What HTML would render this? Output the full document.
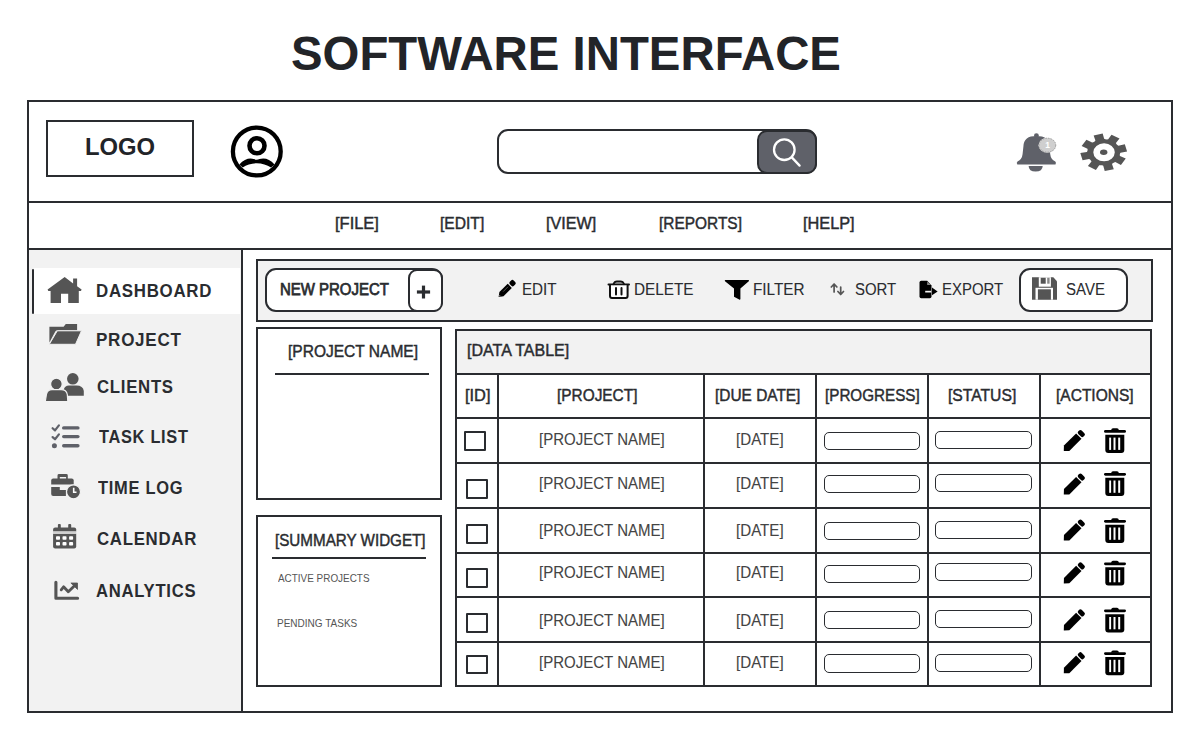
<!DOCTYPE html>
<html><head><meta charset="utf-8">
<style>
*{box-sizing:border-box;margin:0;padding:0}
html,body{width:1200px;height:740px;background:#fff;overflow:hidden}
body{position:relative;font-family:"Liberation Sans",sans-serif;color:#2a2c30}
.a{position:absolute}
.t{position:absolute;line-height:1;white-space:nowrap}
.ln{position:absolute;background:#2a2c30}
.box{position:absolute;border:2px solid #2a2c30}
.mn{font-size:15px;color:#2a2c30}
.sb{font-size:18px;font-weight:700;color:#2a2c30}
.tb{font-size:15px;color:#2a2c30}
.th{text-align:center;font-size:15px;color:#2a2c30}
.td{text-align:center;font-size:15px;color:#444}
.cb{width:21.6px;height:19.8px;border:2.2px solid #2a2c30;border-radius:1px;background:#fff}
.pill{width:96.2px;height:18.2px;border:1.7px solid #2a2c30;border-radius:5px;background:#fff}
svg.full{position:absolute;left:0;top:0}
</style></head><body>

<div class="t" style="left:290.51px;top:29.11px;font-size:48.6px;font-weight:700;color:#222428;letter-spacing:0px;transform:scaleX(0.9747);transform-origin:0 0;">SOFTWARE INTERFACE</div>
<div class="box" style="left:27px;top:100px;width:1146px;height:613.4px"></div>
<div class="ln" style="left:27px;top:201px;width:1146px;height:2px"></div>
<div class="ln" style="left:27px;top:248px;width:1146px;height:2px"></div>
<div class="box" style="left:46px;top:120px;width:148px;height:57px"></div>
<div class="t" style="left:84.81px;top:134.65px;font-size:24.2px;font-weight:700;color:#222428;letter-spacing:0px;transform:scaleX(0.9846);transform-origin:0 0;">LOGO</div>
<div class="a" style="left:29px;top:250px;width:213px;height:461px;background:#f2f2f2"></div>
<div class="ln" style="left:241px;top:249px;width:2px;height:463px"></div>
<div class="a" style="left:34px;top:268px;width:206px;height:46px;background:#fff"></div>
<div class="a" style="left:31.6px;top:268.7px;width:2.7px;height:45px;border-radius:1.3px;background:#2a2c30"></div>
<div class="a" style="left:497px;top:129px;width:320px;height:44.6px;border:2px solid #2a2c30;border-radius:11px;background:#fff"></div>
<div class="a" style="left:757px;top:130px;width:60px;height:44px;background:#5f6169;border:2px solid #2a2c30;border-radius:10px"></div>
<div class="t" style="left:334.78px;top:215.25px;font-size:16.5px;font-weight:400;color:#2a2c30;-webkit-text-stroke:0.45px #2a2c30;letter-spacing:0px;transform:scaleX(0.9976);transform-origin:0 0;">[FILE]</div>
<div class="t" style="left:440.13px;top:215.45px;font-size:16.5px;font-weight:400;color:#2a2c30;-webkit-text-stroke:0.45px #2a2c30;letter-spacing:0px;transform:scaleX(0.9459);transform-origin:0 0;">[EDIT]</div>
<div class="t" style="left:546.27px;top:215.25px;font-size:16.5px;font-weight:400;color:#2a2c30;-webkit-text-stroke:0.45px #2a2c30;letter-spacing:0px;transform:scaleX(0.9791);transform-origin:0 0;">[VIEW]</div>
<div class="t" style="left:658.76px;top:215.20px;font-size:16.5px;font-weight:400;color:#2a2c30;-webkit-text-stroke:0.45px #2a2c30;letter-spacing:0px;transform:scaleX(0.9356);transform-origin:0 0;">[REPORTS]</div>
<div class="t" style="left:803.4px;top:215.20px;font-size:16.5px;font-weight:400;color:#2a2c30;-webkit-text-stroke:0.45px #2a2c30;letter-spacing:0px;transform:scaleX(0.988);transform-origin:0 0;">[HELP]</div>
<div class="t" style="left:95.93px;top:282.17px;font-size:18.6px;font-weight:700;color:#2a2c30;letter-spacing:0.8px;transform:scaleX(0.9072);transform-origin:0 0;">DASHBOARD</div>
<div class="t" style="left:95.76px;top:330.70px;font-size:18.6px;font-weight:700;color:#2a2c30;letter-spacing:0.8px;transform:scaleX(0.9164);transform-origin:0 0;">PROJECT</div>
<div class="t" style="left:96.98px;top:377.85px;font-size:18.6px;font-weight:700;color:#2a2c30;letter-spacing:0.8px;transform:scaleX(0.9015);transform-origin:0 0;">CLIENTS</div>
<div class="t" style="left:99.26px;top:428.45px;font-size:18.6px;font-weight:700;color:#2a2c30;letter-spacing:0.8px;transform:scaleX(0.8799);transform-origin:0 0;">TASK LIST</div>
<div class="t" style="left:98.47px;top:478.55px;font-size:18.6px;font-weight:700;color:#2a2c30;letter-spacing:0.8px;transform:scaleX(0.8849);transform-origin:0 0;">TIME LOG</div>
<div class="t" style="left:97.36px;top:530.20px;font-size:18.6px;font-weight:700;color:#2a2c30;letter-spacing:0.8px;transform:scaleX(0.9032);transform-origin:0 0;">CALENDAR</div>
<div class="t" style="left:96.18px;top:582.05px;font-size:18.6px;font-weight:700;color:#2a2c30;letter-spacing:0.8px;transform:scaleX(0.8958);transform-origin:0 0;">ANALYTICS</div>
<div class="a" style="left:256px;top:259px;width:897px;height:63px;background:#f2f2f2;border:2px solid #2a2c30"></div>
<div class="a" style="left:265px;top:268px;width:178px;height:44px;background:#fff;border:2px solid #2a2c30;border-radius:11px"></div>
<div class="a" style="left:408px;top:269px;width:35px;height:43px;background:#fff;border:2px solid #2a2c30;border-radius:9px"></div>
<div class="t" style="left:280.41px;top:280.61px;font-size:16.5px;font-weight:400;color:#2a2c30;-webkit-text-stroke:0.75px #2a2c30;letter-spacing:0px;transform:scaleX(0.9061);transform-origin:0 0;">NEW PROJECT</div>
<div class="t" style="left:522.44px;top:282.00px;font-size:16.0px;font-weight:400;color:#2a2c30;-webkit-text-stroke:0.1px #2a2c30;letter-spacing:0px;transform:scaleX(0.9482);transform-origin:0 0;">EDIT</div>
<div class="t" style="left:633.56px;top:282.00px;font-size:16.0px;font-weight:400;color:#2a2c30;-webkit-text-stroke:0.1px #2a2c30;letter-spacing:0px;transform:scaleX(0.9556);transform-origin:0 0;">DELETE</div>
<div class="t" style="left:752.58px;top:282.00px;font-size:16.0px;font-weight:400;color:#2a2c30;-webkit-text-stroke:0.1px #2a2c30;letter-spacing:0px;transform:scaleX(0.9574);transform-origin:0 0;">FILTER</div>
<div class="t" style="left:854.53px;top:282.00px;font-size:16.0px;font-weight:400;color:#2a2c30;-webkit-text-stroke:0.1px #2a2c30;letter-spacing:0px;transform:scaleX(0.9334);transform-origin:0 0;">SORT</div>
<div class="t" style="left:941.7px;top:282.00px;font-size:16.0px;font-weight:400;color:#2a2c30;-webkit-text-stroke:0.1px #2a2c30;letter-spacing:0px;transform:scaleX(0.9333);transform-origin:0 0;">EXPORT</div>
<div class="a" style="left:1019px;top:268px;width:109px;height:44px;background:#fff;border:2px solid #2a2c30;border-radius:11px"></div>
<div class="t" style="left:1066.11px;top:282.00px;font-size:16.0px;font-weight:400;color:#2a2c30;-webkit-text-stroke:0.1px #2a2c30;letter-spacing:0px;transform:scaleX(0.9378);transform-origin:0 0;">SAVE</div>
<div class="box" style="left:256px;top:327px;width:186px;height:173px"></div>
<div class="t" style="left:288.22px;top:343.20px;font-size:16.5px;font-weight:400;color:#2a2c30;-webkit-text-stroke:0.45px #2a2c30;letter-spacing:0px;transform:scaleX(0.9411);transform-origin:0 0;">[PROJECT NAME]</div>
<div class="ln" style="left:275px;top:373px;width:154px;height:2px"></div>
<div class="box" style="left:256px;top:515px;width:186px;height:172px"></div>
<div class="t" style="left:275.06px;top:532.15px;font-size:16.5px;font-weight:400;color:#2a2c30;-webkit-text-stroke:0.45px #2a2c30;letter-spacing:0px;transform:scaleX(0.9211);transform-origin:0 0;">[SUMMARY WIDGET]</div>
<div class="ln" style="left:272px;top:557px;width:154px;height:2px"></div>
<div class="t" style="left:277.6px;top:573.25px;font-size:10.9px;font-weight:400;color:#555;letter-spacing:0px;transform:scaleX(0.9111);transform-origin:0 0;">ACTIVE PROJECTS</div>
<div class="t" style="left:277.27px;top:617.76px;font-size:10.9px;font-weight:400;color:#555;letter-spacing:0px;transform:scaleX(0.9192);transform-origin:0 0;">PENDING TASKS</div>
<div class="a" style="left:455px;top:329px;width:697px;height:45px;background:#f2f2f2"></div>
<div class="box" style="left:455px;top:328.6px;width:697px;height:358.6px"></div>
<div class="t" style="left:466.78px;top:342.35px;font-size:16.5px;font-weight:400;color:#2a2c30;-webkit-text-stroke:0.45px #2a2c30;letter-spacing:0px;transform:scaleX(0.9721);transform-origin:0 0;">[DATA TABLE]</div>
<div class="ln" style="left:455px;top:372.6px;width:697px;height:2px"></div>
<div class="ln" style="left:455px;top:417.0px;width:697px;height:2px"></div>
<div class="ln" style="left:455px;top:461.8px;width:697px;height:2px"></div>
<div class="ln" style="left:455px;top:506.7px;width:697px;height:2px"></div>
<div class="ln" style="left:455px;top:551.5px;width:697px;height:2px"></div>
<div class="ln" style="left:455px;top:596.3px;width:697px;height:2px"></div>
<div class="ln" style="left:455px;top:641.0px;width:697px;height:2px"></div>
<div class="ln" style="left:497px;top:373px;width:2px;height:314px"></div>
<div class="ln" style="left:703px;top:373px;width:2px;height:314px"></div>
<div class="ln" style="left:815px;top:373px;width:2px;height:314px"></div>
<div class="ln" style="left:927px;top:373px;width:2px;height:314px"></div>
<div class="ln" style="left:1039px;top:373px;width:2px;height:314px"></div>
<div class="t" style="left:464.94px;top:386.65px;font-size:16.5px;font-weight:400;color:#2a2c30;-webkit-text-stroke:0.45px #2a2c30;letter-spacing:0px;transform:scaleX(0.9931);transform-origin:0 0;">[ID]</div>
<div class="t" style="left:557.3px;top:386.80px;font-size:16.5px;font-weight:400;color:#2a2c30;-webkit-text-stroke:0.45px #2a2c30;letter-spacing:0px;transform:scaleX(0.9331);transform-origin:0 0;">[PROJECT]</div>
<div class="t" style="left:715.1px;top:386.95px;font-size:16.5px;font-weight:400;color:#2a2c30;-webkit-text-stroke:0.45px #2a2c30;letter-spacing:0px;transform:scaleX(0.9347);transform-origin:0 0;">[DUE DATE]</div>
<div class="t" style="left:825.19px;top:386.50px;font-size:16.5px;font-weight:400;color:#2a2c30;-webkit-text-stroke:0.45px #2a2c30;letter-spacing:0px;transform:scaleX(0.9221);transform-origin:0 0;">[PROGRESS]</div>
<div class="t" style="left:948.33px;top:386.50px;font-size:16.5px;font-weight:400;color:#2a2c30;-webkit-text-stroke:0.45px #2a2c30;letter-spacing:0px;transform:scaleX(0.9504);transform-origin:0 0;">[STATUS]</div>
<div class="t" style="left:1056.43px;top:386.50px;font-size:16.5px;font-weight:400;color:#2a2c30;-webkit-text-stroke:0.45px #2a2c30;letter-spacing:0px;transform:scaleX(0.941);transform-origin:0 0;">[ACTIONS]</div>
<div class="a cb" style="left:464.3px;top:430.9px"></div>
<div class="t" style="left:538.51px;top:431.25px;font-size:16.5px;font-weight:400;color:#444;-webkit-text-stroke:0.1px #444;letter-spacing:0px;transform:scaleX(0.9101);transform-origin:0 0;">[PROJECT NAME]</div>
<div class="t" style="left:736.45px;top:431.30px;font-size:16.5px;font-weight:400;color:#444;-webkit-text-stroke:0.1px #444;letter-spacing:0px;transform:scaleX(0.917);transform-origin:0 0;">[DATE]</div>
<div class="a pill" style="left:823.6px;top:432.0px"></div>
<div class="a pill" style="left:935.4px;top:431.0px"></div>
<div class="a cb" style="left:466.3px;top:479px"></div>
<div class="t" style="left:538.51px;top:474.95px;font-size:16.5px;font-weight:400;color:#444;-webkit-text-stroke:0.1px #444;letter-spacing:0px;transform:scaleX(0.9101);transform-origin:0 0;">[PROJECT NAME]</div>
<div class="t" style="left:736.45px;top:475.00px;font-size:16.5px;font-weight:400;color:#444;-webkit-text-stroke:0.1px #444;letter-spacing:0px;transform:scaleX(0.917);transform-origin:0 0;">[DATE]</div>
<div class="a pill" style="left:823.6px;top:475px"></div>
<div class="a pill" style="left:935.4px;top:473.7px"></div>
<div class="a cb" style="left:466.2px;top:524px"></div>
<div class="t" style="left:538.51px;top:521.95px;font-size:16.5px;font-weight:400;color:#444;-webkit-text-stroke:0.1px #444;letter-spacing:0px;transform:scaleX(0.9101);transform-origin:0 0;">[PROJECT NAME]</div>
<div class="t" style="left:736.45px;top:522.00px;font-size:16.5px;font-weight:400;color:#444;-webkit-text-stroke:0.1px #444;letter-spacing:0px;transform:scaleX(0.917);transform-origin:0 0;">[DATE]</div>
<div class="a pill" style="left:823.6px;top:521.7px"></div>
<div class="a pill" style="left:935.4px;top:521px"></div>
<div class="a cb" style="left:466.1px;top:568.3px"></div>
<div class="t" style="left:538.51px;top:564.35px;font-size:16.5px;font-weight:400;color:#444;-webkit-text-stroke:0.1px #444;letter-spacing:0px;transform:scaleX(0.9101);transform-origin:0 0;">[PROJECT NAME]</div>
<div class="t" style="left:736.45px;top:564.40px;font-size:16.5px;font-weight:400;color:#444;-webkit-text-stroke:0.1px #444;letter-spacing:0px;transform:scaleX(0.917);transform-origin:0 0;">[DATE]</div>
<div class="a pill" style="left:823.6px;top:564.5px"></div>
<div class="a pill" style="left:935.4px;top:563px"></div>
<div class="a cb" style="left:466.1px;top:613px"></div>
<div class="t" style="left:538.51px;top:612.05px;font-size:16.5px;font-weight:400;color:#444;-webkit-text-stroke:0.1px #444;letter-spacing:0px;transform:scaleX(0.9101);transform-origin:0 0;">[PROJECT NAME]</div>
<div class="t" style="left:736.45px;top:612.10px;font-size:16.5px;font-weight:400;color:#444;-webkit-text-stroke:0.1px #444;letter-spacing:0px;transform:scaleX(0.917);transform-origin:0 0;">[DATE]</div>
<div class="a pill" style="left:823.6px;top:611.2px"></div>
<div class="a pill" style="left:935.4px;top:610.2px"></div>
<div class="a cb" style="left:466.1px;top:654.5px"></div>
<div class="t" style="left:538.51px;top:653.55px;font-size:16.5px;font-weight:400;color:#444;-webkit-text-stroke:0.1px #444;letter-spacing:0px;transform:scaleX(0.9101);transform-origin:0 0;">[PROJECT NAME]</div>
<div class="t" style="left:736.45px;top:653.60px;font-size:16.5px;font-weight:400;color:#444;-webkit-text-stroke:0.1px #444;letter-spacing:0px;transform:scaleX(0.917);transform-origin:0 0;">[DATE]</div>
<div class="a pill" style="left:823.6px;top:654.4px"></div>
<div class="a pill" style="left:935.4px;top:654px"></div>
<svg class="full" width="1200" height="740" viewBox="0 0 1200 740">
<defs>
<g id="tpen" fill="#000"><g transform="translate(1063.8 451.1) rotate(-45)"><path d="M0 0 L4 -3.8 H21.2 V3.8 H4 Z"/><rect x="22.4" y="-3.7" width="4.8" height="7.4" rx="1.8"/></g></g>
<g id="ttrash" fill="#000"><rect x="1104" y="430" width="22" height="2.8" rx="1.4"/><path d="M1111 430.5 Q1111.5 428.3 1113 428.3 H1117 Q1118.6 428.3 1119 430.5Z"/><path d="M1105.3 434.8 H1124.3 V450 Q1124.3 453 1121.3 453 H1108.3 Q1105.3 453 1105.3 450Z"/><rect x="1109.2" y="437.6" width="1.9" height="12.3" fill="#fff"/><rect x="1113.5" y="437.6" width="2" height="12.3" fill="#fff"/><rect x="1118.2" y="437.6" width="2" height="12.3" fill="#fff"/></g>
</defs>
<circle cx="256.8" cy="151.5" r="23.9" fill="none" stroke="#000" stroke-width="4.3"/>
<circle cx="257" cy="145.7" r="7.5" fill="none" stroke="#000" stroke-width="4.6"/>
<path fill="#000" d="M239.3 164.5 C243 160.5 247 158.6 250.5 158.6 C253.5 158.6 255 159.8 256.8 159.8 C258.6 159.8 260 158.6 263.3 158.6 C267 158.6 271 160.5 274.5 164.5 L271 167.5 C267 165 262 163.3 256.8 163.3 C251.6 163.3 246.5 165 242.7 167.5 Z"/>
<circle cx="784.3" cy="149.7" r="10.3" fill="none" stroke="#fff" stroke-width="2.3"/>
<line x1="791.8" y1="157.4" x2="799.6" y2="165.6" stroke="#fff" stroke-width="2.3" stroke-linecap="round"/>
<g fill="#5f6169"><circle cx="1036.4" cy="135.6" r="2.4"/><path d="M1017.5 161.5 Q1022 159.5 1022.6 154 L1023.4 146.5 C1023.8 139 1028 136 1036.4 136 C1044.8 136 1049 139 1049.4 146.5 L1050.2 154 Q1050.8 159.5 1055.3 161.5 Q1056.5 162.5 1055.5 164.5 H1017.3 Q1016.3 162.5 1017.5 161.5Z"/><path d="M1028.6 166 H1042.7 Q1042.5 171.5 1035.6 171.5 Q1028.8 171.5 1028.6 166Z"/></g>
<ellipse cx="1047.4" cy="145.2" rx="8.9" ry="7.5" fill="#e8e8e8"/>
<ellipse cx="1047.4" cy="145.2" rx="8.3" ry="7" fill="#cfcfcf" stroke="#9a9a9a" stroke-width="0.9" stroke-dasharray="1.6 1"/>
<text x="1047.6" y="147.9" font-size="8.5" font-weight="700" fill="#fff" text-anchor="middle" font-family="Liberation Sans">1</text>
<path d="M1117.36 145.08 L1118.36 145.67 L1124.82 144.25 L1127.08 151.48 L1120.54 152.65 L1120.00 153.55 L1119.75 154.91 L1119.94 155.90 L1125.76 158.54 L1120.95 164.93 L1115.30 162.07 L1114.12 162.40 L1112.74 163.22 L1112.00 164.02 L1113.77 169.18 L1104.72 170.98 L1103.26 165.76 L1102.13 165.33 L1100.43 165.13 L1099.20 165.27 L1095.89 169.93 L1087.89 166.09 L1091.48 161.57 L1091.06 160.63 L1090.04 159.52 L1089.04 158.93 L1082.58 160.35 L1080.32 153.12 L1086.86 151.95 L1087.40 151.05 L1087.65 149.69 L1087.46 148.70 L1081.64 146.06 L1086.45 139.67 L1092.10 142.53 L1093.28 142.20 L1094.66 141.38 L1095.40 140.58 L1093.63 135.42 L1102.68 133.62 L1104.14 138.84 L1105.27 139.27 L1106.97 139.47 L1108.20 139.33 L1111.51 134.67 L1119.51 138.51 L1115.92 143.03 L1116.34 143.97Z M1093.3 152.3 A10.75 9 0 1 0 1114.8 152.3 A10.75 9 0 1 0 1093.3 152.3Z" fill="#555" fill-rule="evenodd"/>
<ellipse cx="1103.7" cy="152.2" rx="3.7" ry="2.7" fill="#555"/>
<path fill="#555" d="M64.7 277 L47.6 289.6 L48.3 291 H50.6 V303 H61 V293.8 H68.2 V303 H78.8 V291 H81 L81.6 289.6 L77.1 286.3 V278.6 H73.1 V283.4Z"/>
<path fill="#555" d="M49.4 326.8 H63.6 L65.8 324 H77.1 V330.2 H57.5 Q56 330.2 55.3 331.6 L49.4 342.5Z"/>
<path fill="#555" stroke="#f2f2f2" stroke-width="1" d="M57.3 330.8 H81.5 L75.5 344.3 H49.3Z"/>
<g fill="#555"><circle cx="72.8" cy="378.8" r="5.8"/><path d="M63.7 395.8 V390 Q64.5 385.5 69 385.5 H76.5 Q83 385.5 83.8 391 V395.8Z"/></g>
<g fill="#555" stroke="#f2f2f2" stroke-width="1.2"><circle cx="56.4" cy="384" r="5.8"/><path d="M45.3 401.5 L46.5 394 Q47.5 389.6 52 389.6 H61 Q66.5 389.6 67.3 394.5 L67.8 401.5Z"/></g>
<g fill="none" stroke="#5f6169" stroke-width="2.2" stroke-linecap="round" stroke-linejoin="round"><path d="M52.6 428.2 L55 430.4 L58.9 425.4"/><path d="M52.6 437.1 L55 439.3 L58.9 434.4"/></g>
<circle cx="54.4" cy="445.7" r="2.5" fill="#5f6169"/>
<g stroke="#5f6169" stroke-width="3.4" stroke-linecap="round"><line x1="63.7" y1="427.9" x2="77.9" y2="427.9"/><line x1="63.7" y1="436.6" x2="77.9" y2="436.6"/><line x1="63.7" y1="445.7" x2="77.9" y2="445.7"/></g>
<g fill="#555"><path fill-rule="evenodd" d="M57.5 475.5 Q57.5 474.1 59 474.1 H66.3 Q67.8 474.1 67.8 475.5 V479 H66.1 V476.9 H59.8 V479 H57.5Z"/><path d="M51.2 480.6 Q51.2 478.6 53.2 478.6 H71.7 Q73.7 478.6 73.7 480.6 V484.5 H51.2Z"/><path d="M51.2 487 H59.8 V489.9 H65.9 V496 H53.2 Q51.2 496 51.2 494Z"/></g>
<circle cx="73.5" cy="491.8" r="7" fill="#555" stroke="#f2f2f2" stroke-width="1.2"/>
<path d="M73.7 487.8 V492.3 H76.5" fill="none" stroke="#fff" stroke-width="1.6"/>
<g fill="#555"><rect x="57.9" y="524.1" width="2.9" height="5" rx="1"/><rect x="68.2" y="524.1" width="3" height="5" rx="1"/><path d="M53.1 529.5 Q53.1 527.5 55.1 527.5 H74.2 Q76.2 527.5 76.2 529.5 V531.4 H53.1Z"/><path d="M53.1 533.8 H76.2 V546.4 Q76.2 548.4 74.2 548.4 H55.1 Q53.1 548.4 53.1 546.4Z"/></g>
<rect x="53.1" y="531.4" width="23.1" height="2.4" fill="#d0d0d0"/>
<rect x="56" y="536.2" width="4" height="3.5" rx="0.8" fill="#fff"/>
<rect x="62.5" y="536.2" width="4" height="3.5" rx="0.8" fill="#fff"/>
<rect x="69.1" y="536.2" width="4" height="3.5" rx="0.8" fill="#fff"/>
<rect x="56" y="542.1" width="4" height="3.5" rx="0.8" fill="#fff"/>
<rect x="62.5" y="542.1" width="4" height="3.5" rx="0.8" fill="#fff"/>
<rect x="69.1" y="542.1" width="4" height="3.5" rx="0.8" fill="#fff"/>
<path d="M55.9 582.3 V598.2 H77.6" fill="none" stroke="#555" stroke-width="3.1" stroke-linecap="round" stroke-linejoin="round"/>
<path d="M61.2 589.8 L63.6 586.8 L68.3 591.8 L74.5 585.8" fill="none" stroke="#555" stroke-width="2.8" stroke-linecap="round" stroke-linejoin="round"/>
<path d="M70.9 583 H77.5 V589.4Z" fill="#555" stroke="#555" stroke-width="0.8" stroke-linejoin="round"/>
<g transform="translate(498.6 297) rotate(-45)"><path d="M0 0 L4 -2.9 H15.8 V2.9 H4Z" fill="#000"/><rect x="17" y="-2.9" width="5.4" height="5.8" rx="1.8" fill="#000"/><line x1="7" y1="-0.6" x2="14" y2="-0.6" stroke="#888" stroke-width="0.6"/><path d="M0.6 0 L2.2 -1.1 V1.1Z" fill="#888"/></g>
<g fill="none" stroke="#111" stroke-width="2" stroke-linecap="round"><line x1="608.5" y1="284.5" x2="629" y2="284.5"/><path d="M613.5 284.3 Q614.5 281.5 617 281.5 H620.5 Q623 281.5 624 284.3"/><path fill="#fff" d="M610 285.5 V296 Q610 298 612 298 H625.6 Q627.6 298 627.6 296 V285.5"/><line x1="616" y1="288" x2="616" y2="294.5"/><line x1="621.5" y1="288" x2="621.5" y2="294.5"/></g>
<path d="M614.5 283.8 Q615.2 282.5 617 282.5 H620.5 Q622.3 282.5 623 283.8Z" fill="#777"/>
<path d="M725.3 280 H748.5 Q749.5 280.3 748.8 281.3 L740.4 288.5 V299 Q740.2 300.2 739.2 299.6 L734 296.8 V288.5 L725 281.3 Q724.3 280.3 725.3 280Z" fill="#000"/>
<g fill="none" stroke="#555" stroke-width="1.7" stroke-linecap="round" stroke-linejoin="round"><path d="M834.1 292 V284.5 M831.3 287 L834.1 284 L836.9 287"/><path d="M840.7 287 V294 M837.9 291.5 L840.7 294.5 L843.5 291.5"/></g>
<path fill="#000" d="M921.2 280.7 H927.2 L931.5 285.4 V296.6 Q931.5 298.3 929.8 298.3 H921.2 Q919.5 298.3 919.5 296.6 V282.4 Q919.5 280.7 921.2 280.7Z"/>
<path fill="#888" d="M927.2 281.5 V285 H930.8Z"/>
<rect x="925.2" y="290.8" width="6" height="1.7" fill="#f2f2f2"/>
<path fill="#000" d="M932 287.6 L937.6 291.5 L932 295.2Z"/>
<path fill="#555" d="M1032 277.2 H1053.3 L1057 281.3 V299.7 H1032Z"/>
<rect x="1038.8" y="277.2" width="12.1" height="9.5" fill="#fff"/>
<rect x="1040.7" y="277.8" width="5" height="5.9" fill="#555"/><rect x="1047.2" y="277.8" width="2.4" height="5.9" fill="#888"/>
<rect x="1035.5" y="287.8" width="17.5" height="11.9" fill="#fff"/><rect x="1037.9" y="289.3" width="13" height="10.4" fill="#555"/>
<g stroke="#2a2c30" stroke-width="3.2"><line x1="416.9" y1="292" x2="430.1" y2="292"/><line x1="423.5" y1="285.6" x2="423.5" y2="298.5"/></g>
<use href="#tpen" transform="translate(0 0.0)"/>
<use href="#ttrash" transform="translate(0 0.0)"/>
<use href="#tpen" transform="translate(0 43.5)"/>
<use href="#ttrash" transform="translate(0 42.9)"/>
<use href="#tpen" transform="translate(0 89.5)"/>
<use href="#ttrash" transform="translate(0 89.9)"/>
<use href="#tpen" transform="translate(0 132.3)"/>
<use href="#ttrash" transform="translate(0 132.4)"/>
<use href="#tpen" transform="translate(0 179.3)"/>
<use href="#ttrash" transform="translate(0 179.4)"/>
<use href="#tpen" transform="translate(0 222.2)"/>
<use href="#ttrash" transform="translate(0 222.2)"/>
</svg>
</body></html>
